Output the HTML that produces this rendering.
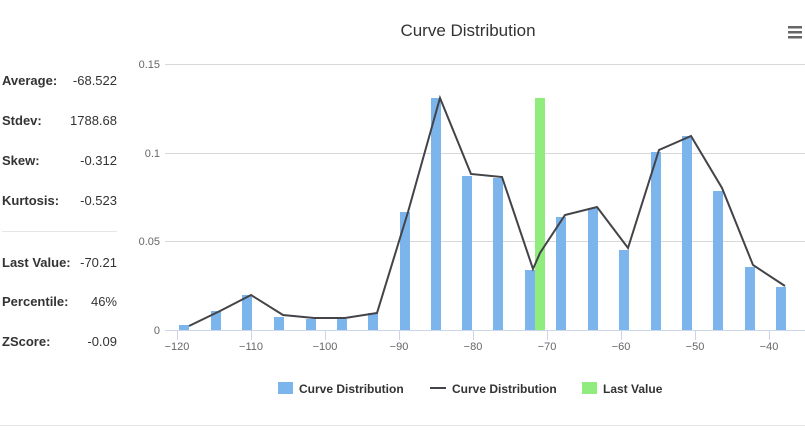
<!DOCTYPE html>
<html><head><style>
body{margin:0;background:#fff;width:805px;height:433px;overflow:hidden;font-family:"Liberation Sans",sans-serif;}
.s{position:absolute;left:2px;font-size:13px;color:#333;}
.s b{position:absolute;left:0;white-space:nowrap}
.s span{position:absolute;left:0;width:115px;text-align:right;}
</style></head><body>
<div class="s" style="top:73px"><b>Average:</b><span>-68.522</span></div>
<div class="s" style="top:113px"><b>Stdev:</b><span>1788.68</span></div>
<div class="s" style="top:153px"><b>Skew:</b><span>-0.312</span></div>
<div class="s" style="top:193px"><b>Kurtosis:</b><span>-0.523</span></div>
<div style="position:absolute;left:2px;top:231px;width:115px;height:1px;background:#e6e6e6"></div>
<div class="s" style="top:255px"><b>Last Value:</b><span>-70.21</span></div>
<div class="s" style="top:294px"><b>Percentile:</b><span>46%</span></div>
<div class="s" style="top:334px"><b>ZScore:</b><span>-0.09</span></div>
<svg style="position:absolute;left:0;top:0" width="805" height="433" font-family="Liberation Sans, sans-serif">
<text x="468" y="36" font-size="17" fill="#333" text-anchor="middle">Curve Distribution</text>
<g fill="#666"><rect x="788" y="26" width="14" height="2.5"/><rect x="788" y="31" width="14" height="2.5"/><rect x="788" y="36" width="14" height="2.5"/></g>
<g stroke="#d8d8d8"><line x1="165" y1="64.5" x2="805" y2="64.5"/><line x1="165" y1="153.5" x2="805" y2="153.5"/><line x1="165" y1="241.5" x2="805" y2="241.5"/></g>
<g font-size="11" fill="#666" text-anchor="end"><text x="160" y="68">0.15</text><text x="160" y="157">0.1</text><text x="160" y="245">0.05</text><text x="160" y="334">0</text></g>
<g fill="#7cb5ec">
<rect x="179" y="325" width="10" height="5"/><rect x="211" y="311" width="10" height="19"/><rect x="242" y="295" width="10" height="35"/><rect x="274" y="317" width="10" height="13"/><rect x="306" y="319" width="10" height="11"/><rect x="337" y="319" width="10" height="11"/><rect x="368" y="313" width="10" height="17"/><rect x="400" y="212" width="10" height="118"/><rect x="431" y="98" width="10" height="232"/><rect x="462" y="176" width="10" height="154"/><rect x="493" y="178" width="10" height="152"/><rect x="525" y="270" width="10" height="60"/><rect x="556" y="217" width="10" height="113"/><rect x="588" y="208" width="10" height="122"/><rect x="619" y="250" width="10" height="80"/><rect x="651" y="152" width="10" height="178"/><rect x="682" y="136" width="10" height="194"/><rect x="713" y="191" width="10" height="139"/><rect x="745" y="267" width="10" height="63"/><rect x="776" y="287" width="10" height="43"/>
</g>
<rect x="535" y="98" width="10" height="232" fill="#90ed7d"/>
<polyline fill="none" stroke="#434348" stroke-width="2" points="189,326 220,311 251,295 283,315 314,318 345,318 377,313 408,212 440,98 471,174 502,177 533,269 540,253 565,215 597,207 628,248 659,150 691,136 722,188 753,265 785,286"/>
<line x1="165" y1="330.5" x2="805" y2="330.5" stroke="#ccd6eb"/>
<g stroke="#ccd6eb"><line x1="177.5" y1="330" x2="177.5" y2="340"/><line x1="251.5" y1="330" x2="251.5" y2="340"/><line x1="325.5" y1="330" x2="325.5" y2="340"/><line x1="399.5" y1="330" x2="399.5" y2="340"/><line x1="473.5" y1="330" x2="473.5" y2="340"/><line x1="547.5" y1="330" x2="547.5" y2="340"/><line x1="621.5" y1="330" x2="621.5" y2="340"/><line x1="695.5" y1="330" x2="695.5" y2="340"/><line x1="769.5" y1="330" x2="769.5" y2="340"/></g>
<g font-size="11" fill="#666" text-anchor="middle"><text x="177" y="350">−120</text><text x="251" y="350">−110</text><text x="325" y="350">−100</text><text x="399" y="350">−90</text><text x="473" y="350">−80</text><text x="547" y="350">−70</text><text x="621" y="350">−60</text><text x="695" y="350">−50</text><text x="769" y="350">−40</text></g>
<g font-size="12" font-weight="bold" fill="#333">
<rect x="278" y="382" width="15" height="12" fill="#7cb5ec"/><text x="299" y="393">Curve Distribution</text>
<line x1="430" y1="388" x2="446" y2="388" stroke="#434348" stroke-width="2"/><text x="452" y="393">Curve Distribution</text>
<rect x="582" y="382" width="15" height="12" fill="#90ed7d"/><text x="603" y="393">Last Value</text>
</g>
<line x1="0" y1="425.5" x2="805" y2="425.5" stroke="#e6e6e6"/>
</svg>
</body></html>
